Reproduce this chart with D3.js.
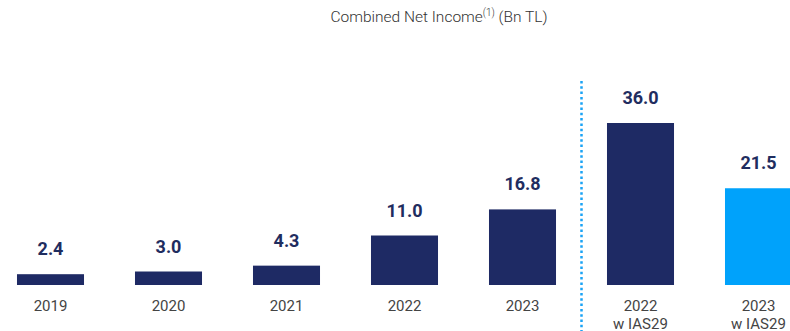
<!DOCTYPE html>
<html>
<head>
<meta charset="utf-8">
<script src="https://cdn.jsdelivr.net/npm/d3@7"></script>
<style>
  body { margin: 0; background: #fff; }
  svg { display: block; font-family: Roboto, "Noto Sans", sans-serif; }
</style>
</head>
<body>
<script>
const Width = 790;
const Height = 331;

// data
const categories = ["2019", "2020", "2021", "2022", "2023", "2022\nw IAS29", "2023\nw IAS29"];
const values = [2.4, 3.0, 4.3, 11.0, 16.8, 36.0, 21.5];
const barColors = ["#1e2a64", "#1e2a64", "#1e2a64", "#1e2a64", "#1e2a64", "#1e2a64", "#00a2fb"];

const margin = { left: -8.5, right: -27.5, top: 123, bottom: 46 };
const innerWidth = Width - margin.left - margin.right;
const innerHeight = Height - margin.top - margin.bottom;

const svg = d3.select('body')
  .append('svg')
    .attr('width', Width)
    .attr('height', Height);

// title
const title = svg.append('text')
  .attr('x', 439)
  .attr('y', 22)
  .attr('text-anchor', 'middle')
  .style('font-size', '15.5px')
  .style('font-weight', 300)
  .style('fill', '#333');
title.append('tspan').text('Combined Net Income');
title.append('tspan').attr('dy', -6).style('font-size', '10px').text('(1)');
title.append('tspan').attr('dy', 6).text(' (Bn TL)');

const g = svg.append('g')
  .attr('transform', `translate(${margin.left}, ${margin.top})`);

const xScale = d3.scaleBand()
  .domain(categories)
  .range([0, innerWidth])
  .paddingInner(0.432)
  .paddingOuter(0.216);

const yScale = d3.scaleLinear()
  .domain([0, 36])
  .range([innerHeight, 0]);

// bars
g.selectAll('rect.bar')
  .data(values)
  .join('rect')
    .attr('class', 'bar')
    .attr('x', (d, i) => xScale(categories[i]))
    .attr('y', d => yScale(d))
    .attr('width', xScale.bandwidth())
    .attr('height', d => innerHeight - yScale(d))
    .style('fill', (d, i) => barColors[i]);

// value labels
g.selectAll('text.value')
  .data(values)
  .join('text')
    .attr('class', 'value')
    .attr('x', (d, i) => xScale(categories[i]) + xScale.bandwidth() / 2)
    .attr('y', d => yScale(d) - 19)
    .attr('text-anchor', 'middle')
    .style('font-size', '18px')
    .style('font-weight', 'bold')
    .style('fill', '#1f2d5f')
    .text(d => d.toFixed(1));

// category labels
const catLabels = g.selectAll('text.cat')
  .data(categories)
  .join('text')
    .attr('class', 'cat')
    .attr('x', d => xScale(d) + xScale.bandwidth() / 2)
    .attr('y', innerHeight + 26)
    .attr('text-anchor', 'middle')
    .style('font-size', '15px')
    .style('fill', '#444');

catLabels.selectAll('tspan')
  .data(d => d.split('\n').map(t => ({ t, x: xScale(d) + xScale.bandwidth() / 2 })))
  .join('tspan')
    .attr('x', d => d.x)
    .attr('dy', (d, i) => i === 0 ? 0 : 18)
    .text(d => d.t);

// dotted separator between the reported and IAS29 groups
const sepX = (xScale("2023") + xScale.bandwidth() + xScale("2022\nw IAS29")) / 2;
svg.append('line')
  .attr('x1', sepX + margin.left)
  .attr('x2', sepX + margin.left)
  .attr('y1', 81)
  .attr('y2', Height)
  .style('stroke', '#1aa3f5')
  .style('stroke-width', 2.5)
  .style('stroke-dasharray', '2.5,2.8');
</script>
</body>
</html>
